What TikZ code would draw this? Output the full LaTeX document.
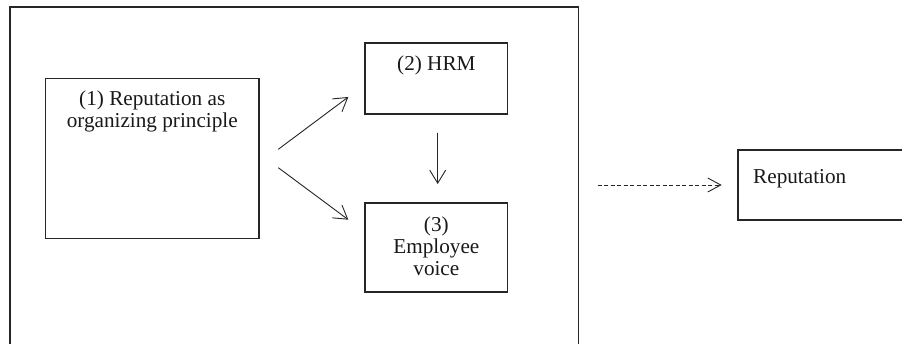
\documentclass[tikz,border=0pt]{standalone}
\usepackage{fontspec}
\setmainfont{Liberation Serif}
\usetikzlibrary{arrows.meta}
\begin{document}
\begin{tikzpicture}[x=1pt,y=-1pt,
  boxshape/.style={draw=black!85, line width=1.1pt, rectangle, inner sep=0pt, outer sep=0pt},
  lbl/.style={anchor=base, inner sep=0pt, font=\fontsize{21.2}{22}\selectfont, text=black!90},
  conn/.style={draw=black!85, line width=0.9pt, -{Straight Barb[length=13pt,width=16pt,line width=0.9pt]}},
  dconn/.style={conn, dash pattern=on 4pt off 2.5pt, -{Straight Barb[length=13pt,width=14pt,line width=0.9pt]}}]
\useasboundingbox (0,0) rectangle (902,344);
\clip (0,0) rectangle (902,344);
\fill[white] (0,0) rectangle (902,344);
% outer container
\node[boxshape, minimum width=568.7pt, minimum height=353pt] (outer) at (294.35,183.5) {};
% boxes
\node[boxshape, minimum width=213.5pt, minimum height=160pt] (b1) at (152.25,158.7) {};
\node[boxshape, minimum width=142.7pt, minimum height=71pt] (b2) at (436.35,78.5) {};
\node[boxshape, minimum width=142.7pt, minimum height=89pt] (b3) at (436.35,247.5) {};
\node[boxshape, minimum width=172pt, minimum height=70pt] (rep) at (824,185) {};
% texts
\node[lbl] (t1a) at (152.25,106) {(1) Reputation as};
\node[lbl] (t1b) at (152.25,128) {organizing principle};
\node[lbl] (t2) at (436.35,71) {(2) HRM};
\node[lbl] (t3a) at (436.35,231.5) {(3)};
\node[lbl] (t3b) at (436.35,253.5) {Employee};
\node[lbl] (t3c) at (436.35,275.5) {voice};
\node[lbl, anchor=base west] (trep) at (753,184) {Reputation};
% connector end points
\coordinate (s12) at (278.3,149.3);
\coordinate (e12) at (348.3,97);
\coordinate (s13) at (278.3,167.7);
\coordinate (e13) at (348.3,219.7);
\coordinate (s23) at (437.7,132.7);
\coordinate (e23) at (437.7,184);
\coordinate (sd) at (597.7,185);
\coordinate (ed) at (721.7,185);
\draw[conn] (s12) -- (e12);
\draw[conn] (s13) -- (e13);
\draw[conn] (s23) -- (e23);
\draw[dconn] (sd) -- (ed);
\end{tikzpicture}
\end{document}
